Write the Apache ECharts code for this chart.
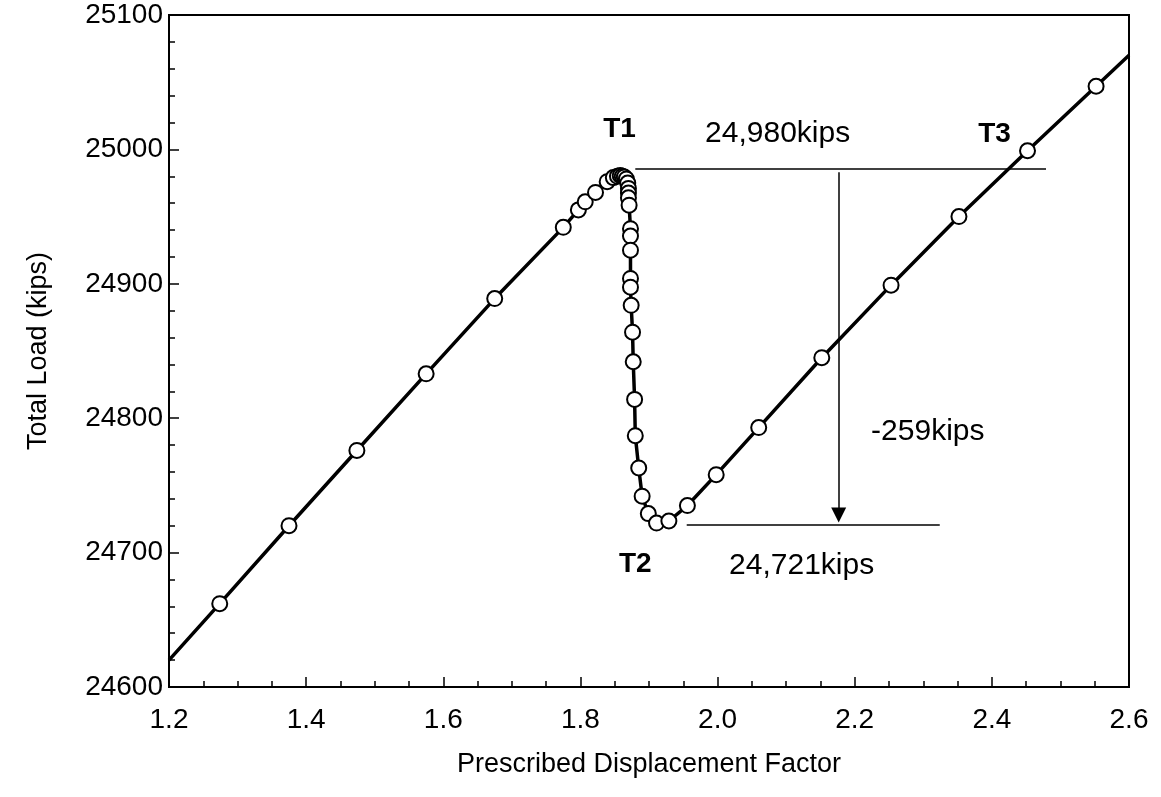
<!DOCTYPE html>
<html>
<head>
<meta charset="utf-8">
<script src="https://cdn.jsdelivr.net/npm/echarts@6/dist/echarts.min.js"></script>
<style>
html,body{margin:0;padding:0;background:#fff;}
#chart{width:1161px;height:797px;}
</style>
</head>
<body>
<div id="chart"></div>
<script>
// Measured points (Prescribed Displacement Factor vs Total Load, kips)
const factor = [1.274,1.375,1.474,1.575,1.675,1.775,1.797,1.807,1.822,1.839,1.848,1.854,1.858,1.861,1.864,1.867,1.869,1.870,1.870,1.870,1.871,1.873,1.873,1.873,1.873,1.873,1.874,1.876,1.877,1.879,1.880,1.885,1.890,1.899,1.911,1.929,1.956,1.998,2.060,2.152,2.253,2.352,2.452,2.552];
const load   = [24662,24720,24776,24833,24889,24942,24955,24961,24968,24976,24979,24980,24980.5,24980,24979.5,24978,24975,24971,24967.5,24964,24958.5,24941,24935.5,24925,24904,24897.5,24884,24864,24842,24814,24787,24763,24742,24729,24722,24723.5,24735,24758,24793,24845,24899,24950,24999,25047];
// Line extension to the plot edges (no marker)
const lineStart = [1.2, 24620];
const lineEnd = [2.6, 25070];

// Tick settings
const xMin = 1.2, xMax = 2.6, xStep = 0.2;
const yMin = 24600, yMax = 25100, yStep = 100;

// Annotation texts
const labelTexts = ['T1','24,980kips','T3','-259kips','T2','24,721kips'];
const labelX     = [1.857, 2.0876, 2.404, 2.3066, 1.880, 2.1226];
const labelY     = [25015, 25011.5, 25011.5, 24789.7, 24691.5, 24690];
const labelBold  = [true, false, true, false, true, false];

// Reference lines: [x1, x2, y]
const peakLine = [1.880, 2.479, 24985.4];
const valleyLine = [1.955, 2.324, 24720.5];
// Arrow: [x, yFrom, yTo]
const dropArrow = [2.1766, 24983, 24728];

const FONT = 'Arial, "Liberation Sans", sans-serif';

const curveData = [{value: lineStart, symbol: 'none'}]
  .concat(factor.map((f, i) => ({value: [f, load[i]]})))
  .concat([{value: lineEnd, symbol: 'none'}]);

const labelData = labelTexts.map((t, i) => ({
  name: t,
  value: [labelX[i], labelY[i]],
  label: labelBold[i] ? {fontWeight: 'bold', fontSize: 28} : {fontWeight: 'normal', fontSize: 30}
}));

const chart = echarts.init(document.getElementById('chart'), null, {renderer: 'canvas'});
chart.setOption({
  animation: false,
  backgroundColor: '#fff',
  grid: {left: 169, right: 32, top: 15, bottom: 110, show: true, borderColor: '#000', borderWidth: 2, backgroundColor: 'transparent'},
  xAxis: {
    type: 'value', min: xMin, max: xMax, interval: xStep,
    name: 'Prescribed Displacement Factor', nameLocation: 'middle', nameGap: 64,
    nameTextStyle: {fontFamily: FONT, fontSize: 27, color: '#000'},
    axisLine: {show: true, lineStyle: {color: '#000', width: 2}},
    axisTick: {show: true, inside: true, length: 10, lineStyle: {color: '#000', width: 1.5}},
    minorTick: {show: true, splitNumber: 4, length: 6, lineStyle: {color: '#000', width: 1.5}},
    axisLabel: {fontFamily: FONT, fontSize: 28, color: '#000', margin: 19, formatter: v => v.toFixed(1)},
    splitLine: {show: false}
  },
  yAxis: {
    type: 'value', min: yMin, max: yMax, interval: yStep,
    name: 'Total Load (kips)', nameLocation: 'middle', nameGap: 117,
    nameTextStyle: {fontFamily: FONT, fontSize: 27, color: '#000'},
    axisLine: {show: true, lineStyle: {color: '#000', width: 2}},
    axisTick: {show: true, inside: true, length: 10, lineStyle: {color: '#000', width: 1.5}},
    minorTick: {show: true, splitNumber: 5, length: 6, lineStyle: {color: '#000', width: 1.5}},
    axisLabel: {fontFamily: FONT, fontSize: 28, color: '#000', margin: 6, formatter: v => String(v)},
    splitLine: {show: false}
  },
  series: [
    {
      type: 'line',
      data: curveData,
      showAllSymbol: true,
      symbol: 'circle',
      symbolSize: 15,
      lineStyle: {color: '#000', width: 3.5},
      itemStyle: {color: '#fff', borderColor: '#000', borderWidth: 2},
      emphasis: {disabled: true},
      silent: true,
      z: 5
    },
    {
      type: 'scatter',
      data: [],
      silent: true,
      markLine: {
        silent: true,
        symbol: ['none', 'none'],
        label: {show: false},
        lineStyle: {color: '#000', width: 1.5, type: 'solid'},
        emphasis: {disabled: true},
        data: [
          [{coord: [peakLine[0], peakLine[2]]}, {coord: [peakLine[1], peakLine[2]]}],
          [{coord: [valleyLine[0], valleyLine[2]]}, {coord: [valleyLine[1], valleyLine[2]]}]
        ]
      }
    },
    {
      type: 'scatter',
      data: [],
      silent: true,
      markLine: {
        silent: true,
        symbol: ['none', 'triangle'],
        symbolSize: 15,
        label: {show: false},
        lineStyle: {color: '#000', width: 1.5, type: 'solid'},
        emphasis: {disabled: true},
        data: [
          [{coord: [dropArrow[0], dropArrow[1]]}, {coord: [dropArrow[0], dropArrow[2]]}]
        ]
      }
    },
    {
      type: 'scatter',
      data: labelData,
      symbol: 'circle',
      symbolSize: 1,
      itemStyle: {opacity: 0},
      silent: true,
      label: {show: true, position: 'inside', formatter: '{b}', color: '#000', fontFamily: FONT, fontSize: 30, opacity: 1},
      z: 10
    }
  ]
});
</script>
</body>
</html>
